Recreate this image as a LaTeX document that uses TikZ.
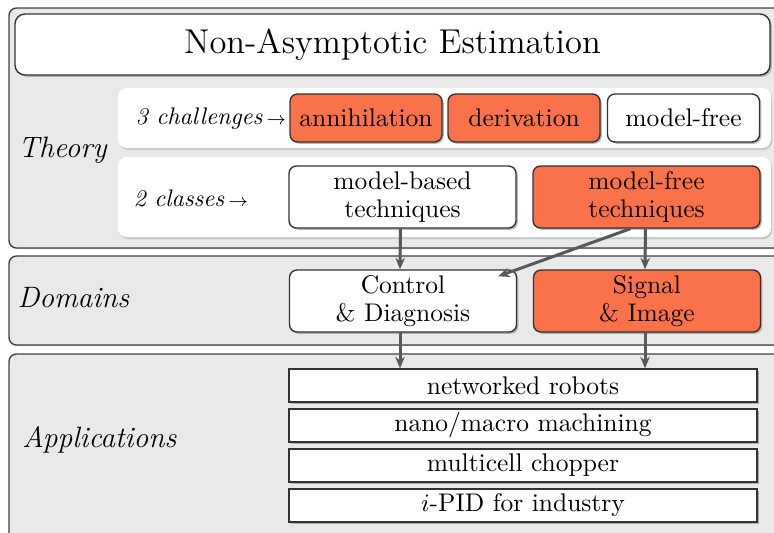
\documentclass[tikz,border=0pt]{standalone}
\usetikzlibrary{shadows,calc,arrows.meta}
\definecolor{accent}{RGB}{250,114,74}
\definecolor{panelgray}{RGB}{233,233,233}
\definecolor{linkgray}{RGB}{88,88,88}
\begin{document}
\begin{tikzpicture}[x=0.4pt,y=-0.4pt,
  font=\fontsize{10.2}{11}\selectfont,
  panel/.style={draw=black!75, line width=0.55pt, fill=panelgray, rounded corners=3pt,
    drop shadow={shadow xshift=0.4pt, shadow yshift=-0.4pt, fill=black!45}},
  band/.style={fill=white, rounded corners=3.5pt,
    drop shadow={shadow xshift=0.5pt, shadow yshift=-0.8pt, fill=black!30, opacity=0.6}},
  box/.style={draw=black!80, line width=0.55pt, rounded corners=3pt, inner sep=0pt, align=center,
    drop shadow={shadow xshift=0.7pt, shadow yshift=-0.7pt, fill=black!55}},
  plainbox/.style={box, fill=white},
  hotbox/.style={box, fill=accent},
  small/.style={minimum width=60.8pt, minimum height=19.2pt},
  wide/.style={minimum width=90.8pt, minimum height=24.8pt},
  appbox/.style={draw=black!80, line width=0.55pt, fill=white, inner sep=0pt,
    minimum width=187.2pt, minimum height=13.2pt,
    drop shadow={shadow xshift=0.7pt, shadow yshift=-0.7pt, fill=black!55}},
  side/.style={anchor=west, inner sep=0pt, font=\fontsize{11.8}{13}\selectfont\itshape},
  rowlabel/.style={anchor=west, inner sep=0pt, font=\fontsize{9.6}{11}\selectfont\itshape},
  link/.style={draw=linkgray, line width=1.2pt, -{Stealth[length=4.6pt,width=3.8pt]}}
]
\useasboundingbox (0,0) rectangle (774,533);
\clip (0,0) rectangle (774,533);

% the three layers
\draw[panel] (9,8) rectangle (800,248);
\draw[panel] (9,256) rectangle (800,345);
\draw[panel] (9,354) rectangle (800,560);

% title
\node[plainbox, rounded corners=4pt, minimum width=302pt, minimum height=24.4pt,
  font=\fontsize{13.8}{16}\selectfont] (title) at (392.5,44.5) {Non-Asymptotic Estimation};

% theory layer
\node[side] (theory) at (18,150) {Theory};
\fill[band] (118,88) rectangle (771,148);
\fill[band] (118,157) rectangle (771,237);
\node[rowlabel] (challenges) at (135,119) {3 challenges\,{\fontsize{7}{8}\selectfont$\rightarrow$}};
\node[rowlabel] (classes) at (133,198) {2 classes\,{\fontsize{7}{8}\selectfont$\rightarrow$}};

\node[hotbox, small] (annih) at (366,118) {annihilation};
\node[hotbox, small] (deriv) at (524,118) {derivation};
\node[plainbox, small] (mfree) at (683.5,118) {model-free};

\node[plainbox, wide] (mbased) at (402.5,197) {model-based\\techniques};
\node[hotbox, wide] (mftech) at (646.5,197) {model-free\\techniques};

% domains layer
\node[side] (domains) at (17,298) {Domains};
\node[plainbox, wide] (control) at (403,301) {Control\\\& Diagnosis};
\node[hotbox, wide] (signal) at (647,301) {Signal\\\& Image};

% applications layer
\node[side] (applications) at (22,440) {Applications};
\node[appbox] (robots) at (523,385.5) {networked robots};
\node[appbox] (machining) at (523,425.5) {nano/macro machining};
\node[appbox] (chopper) at (523,465.5) {multicell chopper};
\node[appbox] (ipid) at (523,505.5) {$i$-PID for industry};

% links between layers
\draw[link] ($(mbased.south)+(-2,0)$) -- ($(control.north)+(-3,0)$);
\draw[link] ($(mftech.south)+(-16,0)$) -- ($(control.north east)+(-19,7)$);
\draw[link] ($(mftech.south)+(-1,0)$) -- ($(signal.north)+(-2,0)$);
\draw[link] ($(control.south)+(-3,0)$) -- ($(robots.north -| control.south)+(-3,0)$);
\draw[link] ($(signal.south)+(-2,0)$) -- ($(robots.north -| signal.south)+(-2,0)$);
\end{tikzpicture}
\end{document}
